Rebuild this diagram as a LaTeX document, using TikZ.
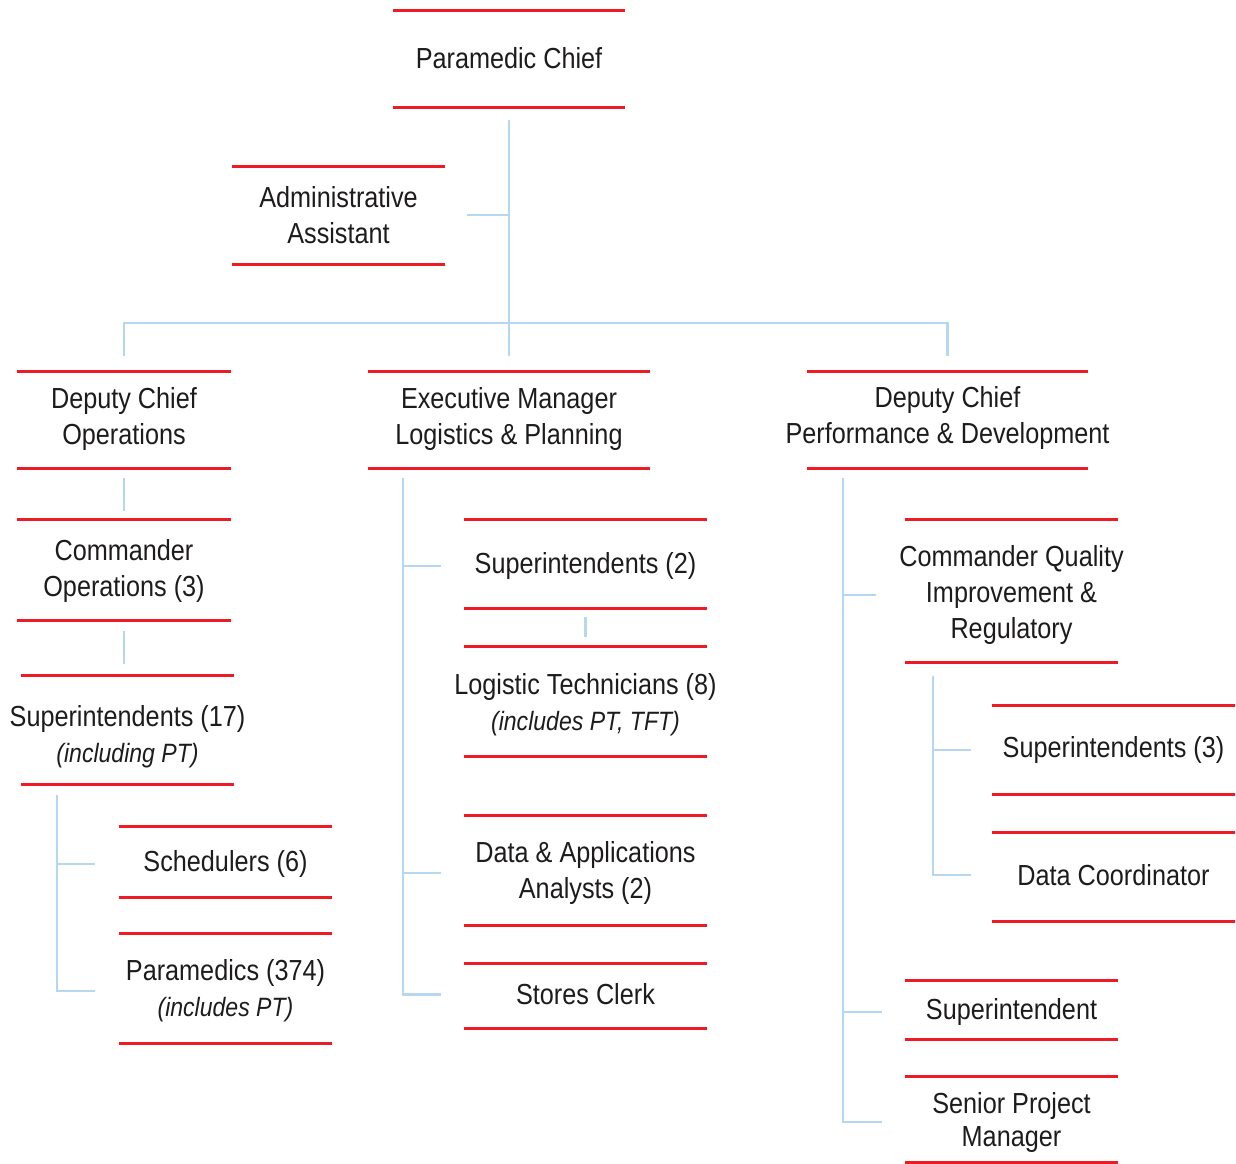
\documentclass[tikz,border=0pt]{standalone}
\usepackage{fontspec}
\setmainfont{Liberation Sans}[FakeStretch=0.87]
\usetikzlibrary{calc}
\definecolor{redc}{HTML}{ED1C24}
\definecolor{bluec}{HTML}{B5D7EF}
\definecolor{txtc}{HTML}{1E1B1C}
\newcommand\orgsub[1]{{\fontsize{26.5}{36}\selectfont\itshape #1}}
% name, x, y (text centre), width, y of top line, y of bottom line, text
\newcommand\orgnode[7]{%
  \node[orgtext, minimum width=#4pt] (#1) at (#2,#3) {#7};
  \draw[redline] ({#2-#4/2},#5) -- ({#2+#4/2},#5);
  \draw[redline] ({#2-#4/2},#6) -- ({#2+#4/2},#6);
}
\begin{document}
\begin{tikzpicture}[x=1pt,y=-1pt,
  orgtext/.style={inner sep=0pt, align=center, text=txtc, font=\fontsize{29}{36}\selectfont},
  redline/.style={draw=redc, line width=3pt},
  conn/.style={draw=bluec, line width=2.4pt}]
\fill[white] (0,0) rectangle (1236,1163);
\useasboundingbox (0,0) rectangle (1236,1163);

% nodes
\orgnode{pc}{509}{58}{232}{10}{107}{Paramedic Chief}
\orgnode{aa}{338.5}{215}{213}{166}{264}{Administrative\\Assistant}
\orgnode{dco}{124}{419}{214}{371}{468}{Deputy Chief\\Operations}
\orgnode{elp}{509}{419}{282}{371}{468}{Executive Manager\\Logistics \& Planning}
\orgnode{dcp}{947.5}{418}{281}{371}{468}{Deputy Chief\\Performance \& Development}
\orgnode{cop}{124}{571}{214}{519}{620}{Commander\\Operations (3)}
\orgnode{ssv}{127.5}{736.5}{213}{675}{784}{Superintendents (17)\\\orgsub{(including PT)}}
\orgnode{sch}{225.5}{864}{213}{826}{897}{Schedulers (6)}
\orgnode{par}{225.5}{991}{213}{933}{1043}{Paramedics (374)\\\orgsub{(includes PT)}}
\orgnode{stw}{585.5}{566}{243}{519}{608}{Superintendents (2)}
\orgnode{lt}{585.5}{704.5}{243}{646}{756}{Logistic Technicians (8)\\\orgsub{(includes PT, TFT)}}
\orgnode{da}{585.5}{873}{243}{815}{925}{Data \& Applications\\Analysts (2)}
\orgnode{sc}{585.5}{994.5}{243}{963}{1028}{Stores Clerk}
\orgnode{cq}{1011.5}{595}{213}{519}{662}{Commander Quality\\Improvement \&\\Regulatory}
\orgnode{sth}{1113.5}{750}{243}{705}{794}{Superintendents (3)}
\orgnode{dc}{1113.5}{875}{243}{832}{921}{Data Coordinator}
\orgnode{sup}{1011.5}{1012}{213}{980}{1039}{Superintendent}
\orgnode{spm}{1011.5}{1122}{213}{1076}{1162}{Senior Project\\[-3pt]Manager}

% connector end points
\coordinate (pcOut) at (509,120);
\coordinate (busMid) at (509,323);
\coordinate (dcoIn) at (124,356);
\coordinate (elpIn) at (509,356);
\coordinate (dcpIn) at (947.5,356);
\coordinate (dcoOut) at (124,478);
\coordinate (copIn) at (124,511);
\coordinate (copOut) at (124,631);
\coordinate (ssvIn) at (124,664);
\coordinate (ssvOut) at (57,795);
\coordinate (elpOut) at (403,478);
\coordinate (stwOut) at (585.5,617);
\coordinate (ltIn) at (585.5,637);
\coordinate (dcpOut) at (843,478);
\coordinate (cqOut) at (933,676);

% connectors
\draw[conn] (pcOut) -- (elpIn);
\draw[conn] ([xshift=22pt]aa.east) -- (aa.east -| pcOut);
\draw[conn] (dcoIn) |- (busMid) -| (dcpIn);

\draw[conn] (dcoOut) -- (copIn);
\draw[conn] (copOut) -- (ssvIn);
\draw[conn] (ssvOut) |- ([xshift=-24pt]par.west);
\draw[conn] (ssvOut |- sch.west) -- ([xshift=-24pt]sch.west);

\draw[conn] (elpOut) |- ([xshift=-23pt]sc.west);
\draw[conn] (elpOut |- stw.west) -- ([xshift=-23pt]stw.west);
\draw[conn] (elpOut |- da.west) -- ([xshift=-23pt]da.west);
\draw[conn] (stwOut) -- (ltIn);

\draw[conn] (dcpOut) |- ([xshift=-23pt]spm.west);
\draw[conn] (dcpOut |- cq.west) -- ([xshift=-23pt]cq.west);
\draw[conn] (dcpOut |- sup.west) -- ([xshift=-23pt]sup.west);

\draw[conn] (cqOut) |- ([xshift=-21pt]dc.west);
\draw[conn] (cqOut |- sth.west) -- ([xshift=-21pt]sth.west);
\end{tikzpicture}
\end{document}
